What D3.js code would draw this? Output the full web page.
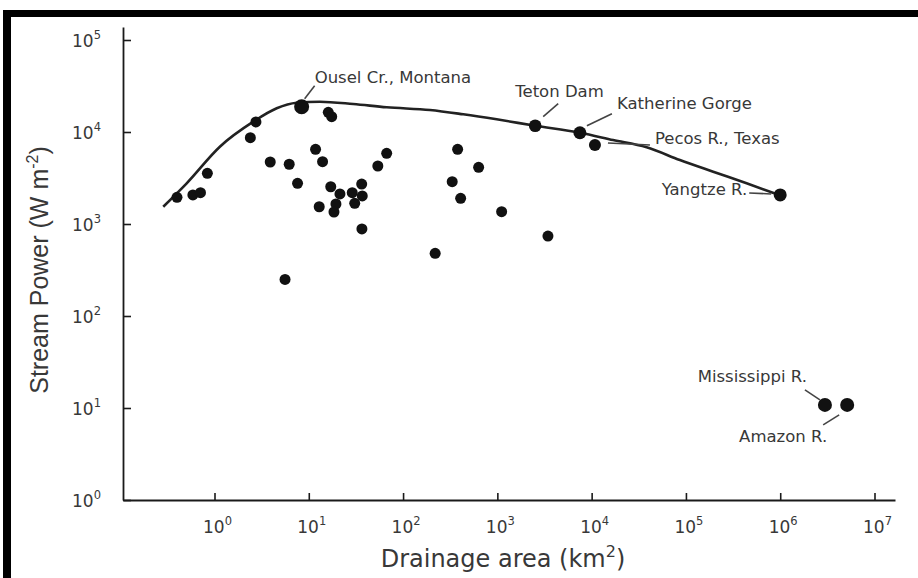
<!DOCTYPE html>
<html>
<head>
<meta charset="utf-8">
<script src="https://cdn.jsdelivr.net/npm/d3@7"></script>
<style>
  html, body { margin: 0; padding: 0; background: #fff; }
  svg { display: block; }
</style>
</head>
<body>
<svg id="chart" width="918" height="578"></svg>
<script>
// ---------- data ----------
const xTickValues = [1, 10, 100, 1000, 10000, 100000, 1000000, 10000000];
const xTickExponents = ["0", "1", "2", "3", "4", "5", "6", "7"];
const yTickValues = [1, 10, 100, 1000, 10000, 100000];
const yTickExponents = ["0", "1", "2", "3", "4", "5"];

// unlabelled floods: drainage area (km2) and stream power (W m-2)
const floodArea  = [0.40, 0.59, 0.71, 0.84, 2.4, 2.75, 3.9, 6.2, 7.6, 11.8, 14.0, 12.9, 16.1, 17.5,
                    17.1, 21.4, 19.4, 18.5, 28.9, 36.4, 36.9, 30.7, 36.6, 54, 67, 5.6, 219,
                    379, 633, 332, 408, 1110, 3440];
const floodPower = [1950, 2070, 2190, 3560, 8670, 12850, 4720, 4460, 2770, 6490, 4760, 1540, 16370, 14670,
                    2540, 2120, 1650, 1350, 2190, 2720, 2020, 1680, 883, 4270, 5870, 250, 480,
                    6490, 4130, 2880, 1900, 1360, 740];

// named floods
const namedLabels = ["Ousel Cr., Montana", "Teton Dam", "Katherine Gorge", "Pecos R., Texas",
                     "Yangtze R.", "Mississippi R.", "Amazon R."];
const namedArea   = [8.4, 2520, 7510, 10840, 1000000, 2980000, 5130000];
const namedPower  = [18840, 11700, 9820, 7220, 2070, 10.8, 10.8];

// envelope curve
const envelopeArea  = [0.286, 0.507, 1.14, 2.58, 4.57, 7.44, 13.1, 29.6, 67, 193, 435, 984,
                       2520, 7510, 16900, 38300, 86300, 194500, 440000, 975000];
const envelopePower = [1542, 2770, 6920, 12940, 18110, 20800, 21340, 20150, 18550, 17340, 15570, 13730,
                       11700, 9820, 8180, 6820, 4960, 3700, 2770, 2070];

// ---------- layout ----------
const svg = d3.select("#chart");
const axisLeftX = 123, axisRightX = 895, axisBottomY = 500, axisTopY = 27;

const xBase = d3.scaleLog().domain([1, 1e7]).range([214.5, 874.5]);
const x = d3.scaleLog().domain([xBase.invert(axisLeftX), xBase.invert(axisRightX)]).range([axisLeftX, axisRightX]);
const yBase = d3.scaleLog().domain([1, 1e5]).range([500, 40]);
const y = d3.scaleLog().domain([1, yBase.invert(axisTopY)]).range([axisBottomY, axisTopY]);

const ink = "#1a1a1a";
const textCol = "#383838";
const geoFont = "'DejaVu Sans', sans-serif";

// frame (cropped border of the original figure)
svg.append("rect").attr("x", 3).attr("y", 10).attr("width", 915).attr("height", 7).attr("fill", "#000");
svg.append("rect").attr("x", 3).attr("y", 10).attr("width", 8).attr("height", 568).attr("fill", "#000");

// axes
const gx = svg.append("g").attr("transform", `translate(0,${axisBottomY})`)
  .call(d3.axisBottom(x).tickValues(xTickValues).tickSizeInner(-7).tickSizeOuter(0).tickFormat(() => ""));
const gy = svg.append("g").attr("transform", `translate(${axisLeftX},0)`)
  .call(d3.axisLeft(y).tickValues(yTickValues).tickSizeInner(-8).tickSizeOuter(0).tickFormat(() => ""));
[gx, gy].forEach(g => {
  g.select(".domain").attr("stroke", ink).attr("stroke-width", 1.8);
  g.selectAll(".tick line").attr("stroke", ink).attr("stroke-width", 1.6);
});

// tick labels with superscripts
xTickValues.forEach((v, i) => {
  const t = svg.append("text").attr("x", x(v) + 3).attr("y", 533)
    .attr("text-anchor", "middle").attr("font-family", geoFont).attr("font-size", 17).attr("fill", textCol);
  t.append("tspan").text("10");
  t.append("tspan").attr("dy", -8).attr("font-size", 11.5).text(xTickExponents[i]);
});
yTickValues.forEach((v, i) => {
  const t = svg.append("text").attr("x", 101).attr("y", y(v) + 7)
    .attr("text-anchor", "end").attr("font-family", geoFont).attr("font-size", 17).attr("fill", textCol);
  t.append("tspan").text("10");
  t.append("tspan").attr("dy", -8).attr("font-size", 11.5).text(yTickExponents[i]);
});

// axis titles
const xt = svg.append("text").attr("x", 503).attr("y", 567).attr("text-anchor", "middle")
  .attr("font-family", geoFont).attr("font-size", 24).attr("fill", textCol);
xt.append("tspan").text("Drainage area (km");
xt.append("tspan").attr("dy", -10).attr("font-size", 16).text("2");
xt.append("tspan").attr("dy", 10).text(")");

const yt = svg.append("text").attr("transform", "translate(48,270) rotate(-90)").attr("text-anchor", "middle")
  .attr("font-family", "'Liberation Sans', Arial, sans-serif").attr("font-size", 25).attr("fill", textCol);
yt.append("tspan").text("Stream Power (W m");
yt.append("tspan").attr("dy", -10).attr("font-size", 16).text("-2");
yt.append("tspan").attr("dy", 10).text(")");

// envelope curve
const envelope = envelopeArea.map((a, i) => [a, envelopePower[i]]);
svg.append("path").datum(envelope)
  .attr("fill", "none").attr("stroke", "#222").attr("stroke-width", 2.6)
  .attr("d", d3.line().x(d => x(d[0])).y(d => y(d[1])).curve(d3.curveMonotoneX));

// unlabelled points
svg.append("g").selectAll("circle").data(floodArea.map((a, i) => [a, floodPower[i]]))
  .join("circle").attr("cx", d => x(d[0])).attr("cy", d => y(d[1])).attr("r", 5.5).attr("fill", "#111");

// named points + leaders + labels (offsets in px relative to the point)
const labelLayout = [
  { r: 7.5, l: [3, -8, 13, -21],   tx: 13,  ty: -24,  anchor: "start" },
  { r: 6.3, l: [8, -9, 23, -22],   tx: -20, ty: -29,  anchor: "start" },
  { r: 6.5, l: [7, -7, 32, -19],   tx: 37,  ty: -23.5, anchor: "start" },
  { r: 6.0, l: [13, -2, 55, 0],    tx: 60,  ty: -1,   anchor: "start" },
  { r: 6.5, l: [-31, -2, -9, -1],  tx: -33, ty: 0.5,  anchor: "end" },
  { r: 7.0, l: [-20, -15, -5, -5], tx: -18, ty: -22.5, anchor: "end" },
  { r: 7.0, l: [-8, 10, -24, 20],  tx: -20, ty: 37.5, anchor: "end" }
];
const ng = svg.append("g");
namedLabels.forEach((name, i) => {
  const px = x(namedArea[i]), py = y(namedPower[i]);
  const L = labelLayout[i];
  ng.append("line").attr("x1", px + L.l[0]).attr("y1", py + L.l[1]).attr("x2", px + L.l[2]).attr("y2", py + L.l[3])
    .attr("stroke", "#444").attr("stroke-width", 1.6);
  ng.append("circle").attr("cx", px).attr("cy", py).attr("r", L.r).attr("fill", "#111");
  ng.append("text").attr("x", px + L.tx).attr("y", py + L.ty).attr("text-anchor", L.anchor)
    .attr("font-family", geoFont).attr("font-size", 16.5).attr("fill", textCol).text(name);
});
</script>
</body>
</html>
